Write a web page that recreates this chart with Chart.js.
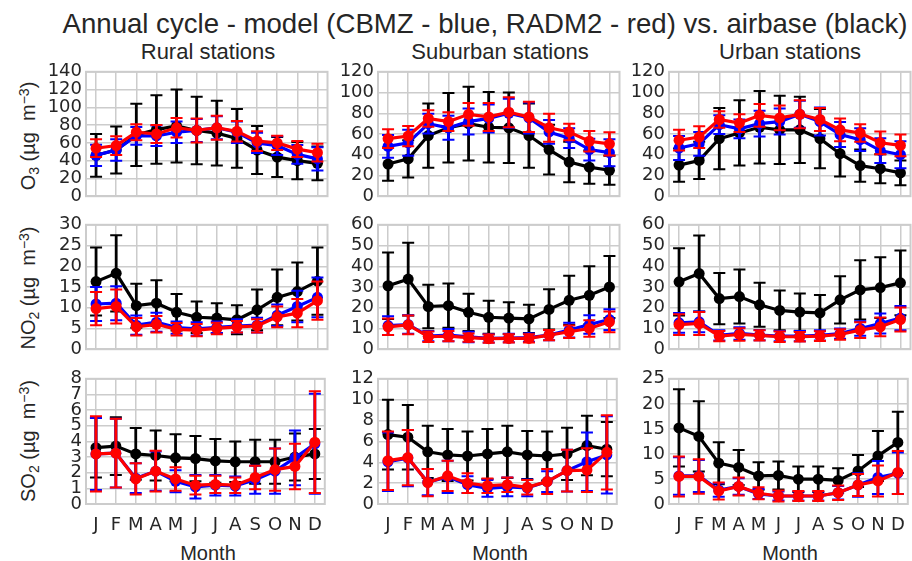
<!DOCTYPE html>
<html>
<head>
<meta charset="utf-8">
<script src="https://cdn.jsdelivr.net/npm/chart.js@4.4.1/dist/chart.umd.min.js"></script>
<style>
  html, body { margin:0; padding:0; background:#fff; }
  body { width:912px; height:561px; position:relative; overflow:hidden;
         font-family:"Liberation Sans", Arial, sans-serif; color:#262626; }
  .txt { position:absolute; white-space:nowrap; line-height:1; transform:translate(-50%,-50%); }
  .ylab { position:absolute; white-space:nowrap; line-height:1; font-size:20px;
          transform:translate(-50%,-50%) rotate(-90deg); }
  .lo { font-size:0.7em; position:relative; top:0.3em; }
  .hi { font-size:0.7em; position:relative; top:-0.45em; }
  canvas { position:absolute; }
</style>
</head>
<body>
<div class="txt" style="left:485px;top:24px;font-size:27.6px">Annual cycle - model (CBMZ - blue, RADM2 - red) vs. airbase (black)</div>
<div class="txt" style="left:208px;top:52px;font-size:22px">Rural stations</div>
<div class="txt" style="left:500px;top:52px;font-size:22px">Suburban stations</div>
<div class="txt" style="left:790px;top:52px;font-size:22px">Urban stations</div>
<div class="ylab" style="left:28px;top:136px">O<span class="lo">3</span> (µg&nbsp;&nbsp;m<span class="hi">−3</span>)</div>
<div class="ylab" style="left:28px;top:288px">NO<span class="lo">2</span> (µg&nbsp;&nbsp;m<span class="hi">−3</span>)</div>
<div class="ylab" style="left:28px;top:441px">SO<span class="lo">2</span> (µg&nbsp;&nbsp;m<span class="hi">−3</span>)</div>
<div class="txt" style="left:208px;top:553px;font-size:20px">Month</div>
<div class="txt" style="left:500px;top:553px;font-size:20px">Month</div>
<div class="txt" style="left:790px;top:553px;font-size:20px">Month</div>
<script>
// month axis
const months = ['J','F','M','A','M','J','J','A','S','O','N','D'];
const monthNumbers = [1,2,3,4,5,6,7,8,9,10,11,12];

// O3 - rural / suburban / urban (mean and std), airbase / CBMZ / RADM2
const o3RuralObs    = [46, 52, 69, 75, 79, 74, 71, 65, 52, 44, 40, 37];
const o3RuralObsSd  = [24, 26.5, 35, 38.5, 41, 38, 36.5, 33, 27, 22.5, 21, 19];
const o3RuralCbmz   = [46, 52, 68, 68, 72, 74, 77, 72, 60, 57, 47, 42];
const o3RuralCbmzSd = [12, 12, 10, 11.5, 12, 13, 13, 12, 11.5, 10.5, 10.5, 13];
const o3RuralRadm   = [54, 57, 72, 70, 77, 74, 77, 73, 62, 60, 53, 49];
const o3RuralRadmSd = [10, 10.5, 9, 10, 11, 13.5, 13.5, 11.5, 11, 8, 9, 10];

const o3SubObs    = [31, 36, 58.5, 66, 70, 66.5, 66, 58.5, 45, 33, 28, 25];
const o3SubObsSd  = [16, 18, 31, 33.5, 35.5, 34, 34, 31, 24, 19.5, 16, 14];
const o3SubCbmz   = [48, 51.5, 70, 66, 72, 75, 80, 75.5, 62, 56, 45, 42];
const o3SubCbmzSd = [11, 12.5, 9.5, 11.5, 12.5, 13.5, 14, 15, 11.5, 9.5, 10.5, 13];
const o3SubRadm   = [55.5, 58, 75, 72, 79, 76.5, 81, 76.5, 66, 62, 53, 50.5];
const o3SubRadmSd = [9, 9.8, 8, 9, 11, 13.5, 14.5, 14.5, 13.5, 8, 10, 11.3];

const o3UrbObs    = [30, 34.5, 55.5, 61, 66.5, 64, 64, 55.5, 41, 29.5, 26.5, 22.5];
const o3UrbObsSd  = [16, 18, 29.5, 31.5, 35, 33, 32, 28.5, 22, 15.5, 14, 12];
const o3UrbCbmz   = [46.5, 50.5, 69, 65, 70, 72, 79, 72, 59.5, 54.5, 44, 40];
const o3UrbCbmzSd = [11.5, 11.5, 9, 9, 12.5, 12.5, 13, 13.5, 12, 11, 12, 13];
const o3UrbRadm   = [54, 57, 74, 70.5, 78, 75.5, 79, 74, 64, 61, 51.5, 49];
const o3UrbRadmSd = [10, 10.5, 8, 8.5, 11, 12, 13.5, 11, 11, 8.5, 11, 10.5];

// NO2
const no2RuralObs    = [16.3, 18.3, 10.5, 11.1, 8.9, 7.7, 7.5, 7.1, 9.5, 12.5, 13.9, 16.4];
const no2RuralObsSd  = [8.2, 9.2, 5.3, 5.5, 4.4, 3.8, 3.6, 3.5, 4.9, 6.7, 7.0, 8.1];
const no2RuralCbmz   = [10.9, 11.1, 5.8, 6.5, 5.2, 4.9, 5.3, 5.6, 5.8, 8.2, 10.3, 12.5];
const no2RuralCbmzSd = [4.1, 4.1, 2.3, 2.3, 1.5, 1.6, 1.4, 1.6, 1.8, 2.6, 3.8, 4.8];
const no2RuralRadm   = [9.8, 10.3, 5.4, 6, 4.8, 4.6, 5, 5.4, 5.6, 7.8, 8.7, 11.7];
const no2RuralRadmSd = [4.0, 4.1, 2.1, 2.0, 1.5, 1.5, 1.4, 1.4, 1.6, 2.5, 3.4, 4.6];

const no2SubObs    = [30.6, 33.8, 20.6, 21, 17.8, 15.4, 15, 14.6, 19.2, 23.6, 26, 30];
const no2SubObsSd  = [16, 17.5, 10.5, 10.7, 9, 8, 7.7, 6.8, 9.7, 11.8, 14, 15];
const no2SubCbmz   = [11.4, 11.9, 6.3, 6.8, 5.9, 5.2, 5.4, 5.6, 6.8, 9.2, 11.9, 14.3];
const no2SubCbmzSd = [4.5, 4.5, 2.5, 3, 2.5, 2, 2, 2, 2.5, 3.5, 4.5, 5];
const no2SubRadm   = [10.8, 11.7, 6, 6.3, 5.6, 5.1, 5.2, 5.2, 6.8, 8.4, 10, 13.2];
const no2SubRadmSd = [4, 4.5, 2.5, 2.5, 2, 2, 2, 2, 2.5, 3, 4, 5];

const no2UrbObs    = [32.5, 36.5, 24.4, 25.4, 21.4, 18.7, 17.9, 17.5, 23.8, 28.6, 29.7, 32];
const no2UrbObsSd  = [16.2, 18.3, 12.4, 13, 10.6, 9.6, 9, 8.7, 11.4, 14.3, 14.7, 15.6];
const no2UrbCbmz   = [12.7, 13.2, 6.7, 7.6, 6.8, 6.3, 6.3, 6.7, 7.5, 10, 12.4, 15];
const no2UrbCbmzSd = [4.8, 5, 2.5, 3, 2.5, 2.5, 2.5, 2.5, 2.5, 3.5, 4.8, 5.8];
const no2UrbRadm   = [11.9, 12.4, 6.3, 7.1, 6.7, 6, 6, 6.3, 7.1, 9.2, 10.8, 14.3];
const no2UrbRadmSd = [5, 5.6, 2.5, 3, 2.5, 2.5, 2.3, 2.3, 2.5, 3.8, 4.5, 5.8];

// SO2
const so2RuralObs    = [3.6, 3.7, 3.2, 3.1, 2.95, 2.9, 2.75, 2.7, 2.7, 2.7, 3.0, 3.2];
const so2RuralObsSd  = [1.9, 1.85, 1.65, 1.6, 1.5, 1.45, 1.4, 1.3, 1.4, 1.4, 1.5, 1.6];
const so2RuralCbmz   = [3.2, 3.25, 1.65, 2.1, 1.45, 1.1, 1.2, 1.15, 1.55, 2.1, 2.95, 3.85];
const so2RuralCbmzSd = [2.3, 2.2, 0.95, 1.25, 0.7, 0.75, 0.65, 0.6, 0.9, 1.45, 1.75, 3.2];
const so2RuralRadm   = [3.2, 3.25, 1.6, 2.1, 1.6, 1.2, 1.25, 1.2, 1.7, 2.2, 2.4, 3.95];
const so2RuralRadmSd = [2.4, 2.2, 1.0, 1.3, 0.75, 0.6, 0.55, 0.5, 0.75, 1.35, 1.45, 3.25];

const so2SubObs    = [6.65, 6.4, 5.0, 4.7, 4.6, 4.8, 5.0, 4.7, 4.6, 4.8, 5.6, 5.25];
const so2SubObsSd  = [3.35, 3.1, 2.5, 2.5, 2.35, 2.4, 2.5, 2.3, 2.35, 2.5, 2.85, 2.6];
const so2SubCbmz   = [4.05, 4.4, 2.1, 2.6, 1.85, 1.5, 1.65, 1.55, 2.15, 3.2, 4.05, 4.7];
const so2SubCbmzSd = [2.8, 2.7, 1.25, 1.55, 0.8, 0.8, 0.9, 0.8, 1.0, 2.0, 2.8, 3.7];
const so2SubRadm   = [4.15, 4.45, 2.05, 2.7, 2.0, 1.75, 1.85, 1.6, 2.15, 3.2, 3.25, 4.95];
const so2SubRadmSd = [2.8, 2.65, 1.3, 1.45, 0.95, 0.7, 0.7, 0.7, 1.2, 2.0, 2.1, 3.55];

const so2UrbObs    = [15.2, 13.5, 8.15, 7.3, 5.6, 5.7, 4.95, 4.95, 4.7, 6.6, 9.6, 12.3];
const so2UrbObsSd  = [7.7, 7, 4.2, 3.5, 2.75, 2.8, 2.55, 2.55, 2.45, 3.2, 5, 6.1];
const so2UrbCbmz   = [5.6, 5.6, 2.8, 3.5, 2.0, 1.6, 1.6, 1.6, 2.25, 3.8, 5.3, 6.15];
const so2UrbCbmzSd = [3.75, 3.2, 1.35, 1.65, 1.0, 0.9, 0.9, 0.9, 1.35, 2.35, 3.3, 4.15];
const so2UrbRadm   = [5.5, 5.5, 2.6, 3.5, 2.15, 1.6, 1.6, 1.6, 2.25, 3.8, 4.6, 6.3];
const so2UrbRadmSd = [4.0, 3.45, 1.7, 1.8, 1.2, 1.1, 1.0, 1.0, 1.45, 2.2, 3.1, 4.3];

// y axis ranges per row/column
const yMaxes = [[140, 120, 120], [30, 60, 60], [8, 12, 25]];
const ySteps = [[20, 20, 20], [5, 10, 10], [1, 2, 5]];

// layout (pixels)
const colLeft = [86, 378, 669];
const rowTop = [71, 224, 378];
const plotW = 243, plotH = 126;
const TICK_FONT = '"DejaVu Sans", "Liberation Sans", sans-serif';
const TXT = '#262626', GRID = '#cccccc';

const panels = [
  [o3RuralObs, o3RuralObsSd, o3RuralCbmz, o3RuralCbmzSd, o3RuralRadm, o3RuralRadmSd],
  [o3SubObs, o3SubObsSd, o3SubCbmz, o3SubCbmzSd, o3SubRadm, o3SubRadmSd],
  [o3UrbObs, o3UrbObsSd, o3UrbCbmz, o3UrbCbmzSd, o3UrbRadm, o3UrbRadmSd],
  [no2RuralObs, no2RuralObsSd, no2RuralCbmz, no2RuralCbmzSd, no2RuralRadm, no2RuralRadmSd],
  [no2SubObs, no2SubObsSd, no2SubCbmz, no2SubCbmzSd, no2SubRadm, no2SubRadmSd],
  [no2UrbObs, no2UrbObsSd, no2UrbCbmz, no2UrbCbmzSd, no2UrbRadm, no2UrbRadmSd],
  [so2RuralObs, so2RuralObsSd, so2RuralCbmz, so2RuralCbmzSd, so2RuralRadm, so2RuralRadmSd],
  [so2SubObs, so2SubObsSd, so2SubCbmz, so2SubCbmzSd, so2SubRadm, so2SubRadmSd],
  [so2UrbObs, so2UrbObsSd, so2UrbCbmz, so2UrbCbmzSd, so2UrbRadm, so2UrbRadmSd]
];

// box round the plot area, under the data
const frame = {
  id: 'frame',
  beforeDatasetsDraw(chart) {
    const { ctx, chartArea: a } = chart;
    ctx.save();
    ctx.strokeStyle = GRID; ctx.lineWidth = 2;
    ctx.strokeRect(a.left, a.top, a.right - a.left, a.bottom - a.top);
    ctx.restore();
  }
};

// +/- std error bars, drawn just before each dataset's line
const errorBars = {
  id: 'errorBars',
  beforeDatasetDraw(chart, args) {
    const ds = chart.data.datasets[args.index];
    if (!ds.errors) return;
    const { ctx, chartArea: a } = chart;
    const xs = chart.scales.x, ys = chart.scales.y;
    ctx.save();
    ctx.beginPath(); ctx.rect(a.left, a.top - 2, a.right - a.left, a.bottom - a.top + 4); ctx.clip();
    ctx.strokeStyle = ds.borderColor;
    ds.data.forEach((pt, i) => {
      const px = xs.getPixelForValue(pt.x);
      const lo = ys.getPixelForValue(pt.y - ds.errors[i]);
      const hi = ys.getPixelForValue(pt.y + ds.errors[i]);
      ctx.lineWidth = 2.8;
      ctx.beginPath(); ctx.moveTo(px, lo); ctx.lineTo(px, hi); ctx.stroke();
      ctx.lineWidth = 2;
      ctx.beginPath();
      ctx.moveTo(px - 6, lo); ctx.lineTo(px + 6, lo);
      ctx.moveTo(px - 6, hi); ctx.lineTo(px + 6, hi);
      ctx.stroke();
    });
    ctx.restore();
  }
};

function series(vals, sds, color, order) {
  return {
    data: vals.map((v, i) => ({ x: monthNumbers[i], y: v })),
    errors: sds,
    borderColor: color, backgroundColor: color,
    pointBackgroundColor: color, pointBorderColor: color,
    borderWidth: 3.2, pointRadius: 5.5, pointBorderWidth: 0,
    tension: 0, order: order
  };
}

function makePanel(idx) {
  const row = Math.floor(idx / 3), col = idx % 3;
  const [obs, obsSd, cbmz, cbmzSd, radm, radmSd] = panels[idx];
  const bottom = row === 2;
  const padL = 60, padT = 14, padR = 4, padB = 14, xh = bottom ? 36 : 0;
  const w = padL + plotW + padR, h = padT + plotH + xh + padB;
  const cv = document.createElement('canvas');
  cv.width = w; cv.height = h;
  cv.style.left = (colLeft[col] - padL) + 'px';
  cv.style.top = (rowTop[row] - padT) + 'px';
  cv.style.width = w + 'px'; cv.style.height = h + 'px';
  document.body.appendChild(cv);

  new Chart(cv, {
    type: 'line',
    data: { datasets: [
      series(obs, obsSd, '#000000', 2),
      series(cbmz, cbmzSd, '#0000ff', 1),
      series(radm, radmSd, '#ff0000', 0)
    ] },
    options: {
      responsive: false, animation: false, devicePixelRatio: 1,
      layout: { padding: { left: 0, top: padT, right: padR, bottom: padB } },
      plugins: { legend: { display: false }, tooltip: { enabled: false } },
      scales: {
        x: {
          type: 'linear', min: 0.5, max: 12.5,
          afterBuildTicks(s) { s.ticks = monthNumbers.map(v => ({ value: v })); },
          afterFit(s) { s.height = xh; },
          grid: { color: GRID, lineWidth: 1.5, drawTicks: false },
          border: { display: false },
          ticks: { display: bottom, padding: 11, color: TXT, autoSkip: false, maxRotation: 0,
                   font: { family: TICK_FONT, size: 18 }, callback: v => months[v - 1] }
        },
        y: {
          min: 0, max: yMaxes[row][col],
          afterFit(s) { s.width = padL; },
          grid: { color: GRID, lineWidth: 1.5, drawTicks: false },
          border: { display: false },
          ticks: { stepSize: ySteps[row][col], padding: 4, color: TXT, autoSkip: false,
                   font: { family: TICK_FONT, size: 18 } }
        }
      }
    },
    plugins: [frame, errorBars]
  });
}

for (let i = 0; i < panels.length; i++) makePanel(i);
</script>
</body>
</html>
